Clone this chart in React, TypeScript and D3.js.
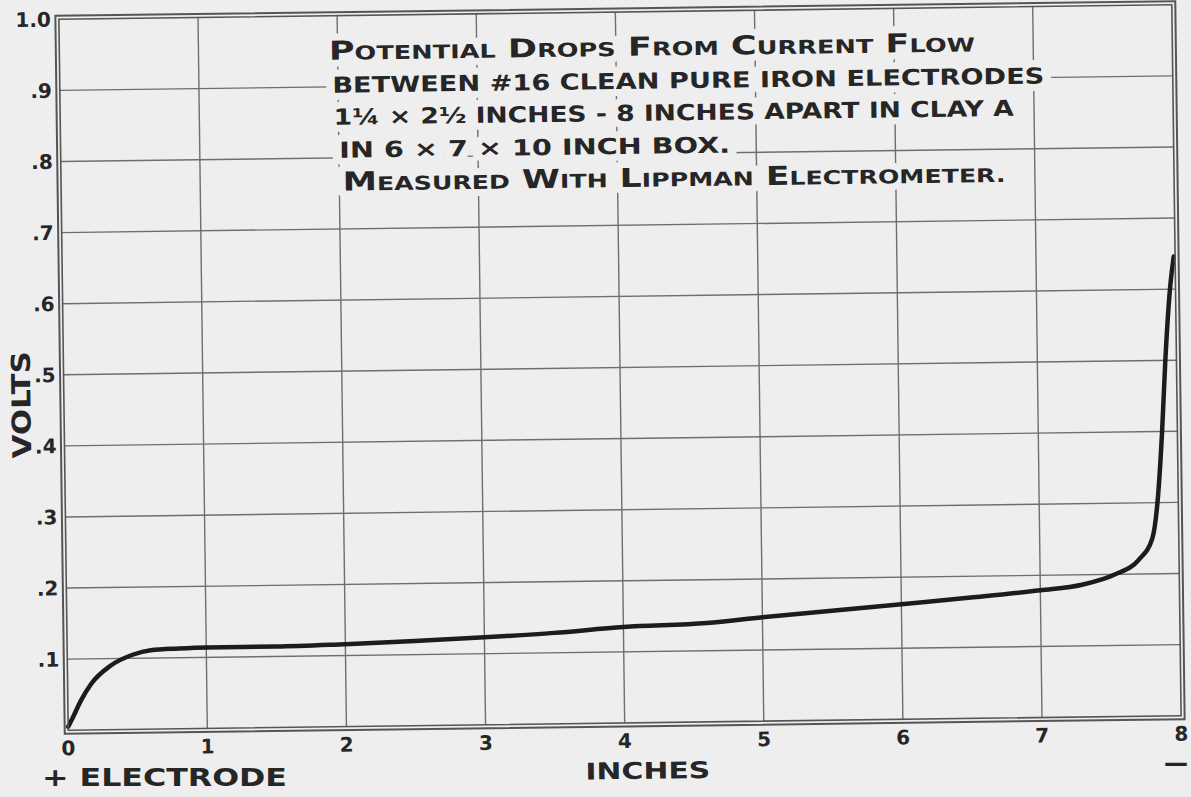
import React from 'react';
import * as d3 from 'd3';

// ---- data ----
const xTickValues = [0, 1, 2, 3, 4, 5, 6, 7, 8];
const xTickLabels = ['0', '1', '2', '3', '4', '5', '6', '7', '8'];
const yTickValues = [0.1, 0.2, 0.3, 0.4, 0.5, 0.6, 0.7, 0.8, 0.9, 1.0];
const yTickLabels = ['.1', '.2', '.3', '.4', '.5', '.6', '.7', '.8', '.9', '1.0'];

const distanceInches = [
  0, 0.04, 0.09, 0.17, 0.31, 0.47, 0.6, 0.8, 1.0, 1.5, 2.0, 2.5, 3.0, 3.5, 4.0, 4.6,
  5.0, 5.5, 6.0, 6.5, 7.0, 7.3, 7.54, 7.71, 7.81, 7.85, 7.89, 7.92, 7.96, 7.99,
];
const volts = [
  0.005, 0.02, 0.04, 0.065, 0.09, 0.105, 0.111, 0.113, 0.114, 0.114, 0.116, 0.119, 0.123, 0.128, 0.135, 0.139,
  0.146, 0.154, 0.162, 0.17, 0.179, 0.186, 0.2, 0.22, 0.25, 0.3, 0.4, 0.5, 0.6, 0.646,
];

const titleLines = [
  'POTENTIAL DROPS FROM CURRENT FLOW',
  'BETWEEN #16 CLEAN PURE IRON ELECTRODES',
  '1¼ × 2½ INCHES - 8 INCHES APART IN CLAY A',
  'IN 6 × 7 × 10 INCH BOX.',
  'MEASURED WITH LIPPMAN ELECTROMETER.',
];
const yAxisTitle = 'VOLTS';
const xAxisTitle = 'INCHES';
const leftNote = '+ ELECTRODE';
const rightNote = '—';

// ---- layout ----
const W = 1191;
const H = 797;
const L = 63.5;
const R = 1176.5;
const T = 12;
const B = 723;
const CX = 620;
const CY = 367;
const TILT = -0.75;
const PAPER = '#eeeeee';
const INK = '#262626';
const GRID = '#6e6e6e';
const FONT = "'DejaVu Sans', 'Liberation Sans', sans-serif";

// title line layout (left x, baseline y, width, small-caps style)
const titleLayout = [
  { x: 333, y: 56, w: 646, sc: true },
  { x: 336, y: 89, w: 712, sc: false },
  { x: 337, y: 121, w: 680, sc: false },
  { x: 342, y: 154, w: 391, sc: false },
  { x: 345, y: 187, w: 663, sc: true },
];

function SmallCaps({ text, big, small }: { text: string; big: number; small: number }) {
  const words = text.split(' ');
  return (
    <>
      {words.map((w, i) => (
        <React.Fragment key={i}>
          <tspan fontSize={big}>{(i > 0 ? ' ' : '') + w[0]}</tspan>
          <tspan fontSize={small}>{w.slice(1)}</tspan>
        </React.Fragment>
      ))}
    </>
  );
}

export default function App() {
  const x = d3.scaleLinear().domain([0, 8]).range([L, R]);
  const y = d3.scaleLinear().domain([0, 1]).range([B, T]);

  const pts: [number, number][] = distanceInches.map((d, i) => [d, volts[i]]);
  const linePath = d3
    .line<[number, number]>()
    .x((d) => x(d[0]))
    .y((d) => y(d[1]))
    .curve(d3.curveMonotoneX)(pts) as string;

  const titleText = (t: string, i: number, halo: boolean) => {
    const lay = titleLayout[i];
    return (
      <text
        key={(halo ? 'h' : 't') + i}
        x={lay.x}
        y={lay.y}
        fill={halo ? PAPER : INK}
        stroke={halo ? PAPER : 'none'}
        strokeWidth={halo ? 14 : 0}
        strokeLinejoin="round"
        fontWeight="bold"
        fontSize={22}
        textLength={lay.w}
        lengthAdjust="spacingAndGlyphs"
        aria-hidden={halo ? true : undefined}
      >
        {lay.sc ? <SmallCaps text={t} big={26} small={19} /> : t}
      </text>
    );
  };

  return (
    <svg
      width={W}
      height={H}
      viewBox={`0 0 ${W} ${H}`}
      style={{ position: 'absolute', left: 0, top: 0, display: 'block' }}
      fontFamily={FONT}
    >
      <rect x={0} y={0} width={W} height={H} fill={PAPER} />
      <g transform={`rotate(${TILT}, ${CX}, ${CY})`}>
        {/* grid */}
        {xTickValues.slice(1, -1).map((v) => (
          <line key={'gx' + v} x1={x(v)} x2={x(v)} y1={T} y2={B} stroke={GRID} strokeWidth={1.4} />
        ))}
        {yTickValues.slice(0, -1).map((v) => (
          <line key={'gy' + v} x1={L} x2={R} y1={y(v)} y2={y(v)} stroke={GRID} strokeWidth={1.4} />
        ))}

        {/* curve */}
        <path d={linePath} fill="none" stroke="#1c1c1c" strokeWidth={4.5} strokeLinecap="round" strokeLinejoin="round" />

        {/* double frame */}
        <rect x={L} y={T} width={R - L} height={B - T} fill="none" stroke="#555" strokeWidth={1.6} />
        <rect x={L - 3.5} y={T - 3.5} width={R - L + 7} height={B - T + 7} fill="none" stroke="#555" strokeWidth={2} />

        {/* title: paper halo behind, ink on top */}
        <g>{titleLines.map((t, i) => titleText(t, i, true))}</g>
        <g>{titleLines.map((t, i) => titleText(t, i, false))}</g>

        {/* y tick labels */}
        {yTickValues.map((v, i) => (
          <text
            key={'yl' + v}
            x={L - 8}
            y={y(v)}
            dy="0.36em"
            textAnchor="end"
            fontSize={20}
            fontWeight="bold"
            fill={INK}
          >
            {yTickLabels[i]}
          </text>
        ))}

        {/* x tick labels */}
        {xTickValues.map((v, i) => (
          <text key={'xl' + v} x={x(v)} y={B + 25} textAnchor="middle" fontSize={20} fontWeight="bold" fill={INK}>
            {xTickLabels[i]}
          </text>
        ))}

        {/* axis titles */}
        <text
          transform={`translate(30, 397) rotate(-90)`}
          textAnchor="middle"
          fontSize={26}
          fontWeight="bold"
          fill={INK}
          textLength={107}
          lengthAdjust="spacingAndGlyphs"
        >
          {yAxisTitle}
        </text>
        <text x={580} y={779} fontSize={23} fontWeight="bold" fill={INK} textLength={125} lengthAdjust="spacingAndGlyphs">
          {xAxisTitle}
        </text>
      </g>
      <text x={42} y={786} fontSize={25} fontWeight="bold" fill={INK} textLength={245} lengthAdjust="spacingAndGlyphs">
        {leftNote}
      </text>
      <text x={1164} y={771} fontSize={24} fontWeight="bold" fill={INK}>
        {rightNote}
      </text>
    </svg>
  );
}
